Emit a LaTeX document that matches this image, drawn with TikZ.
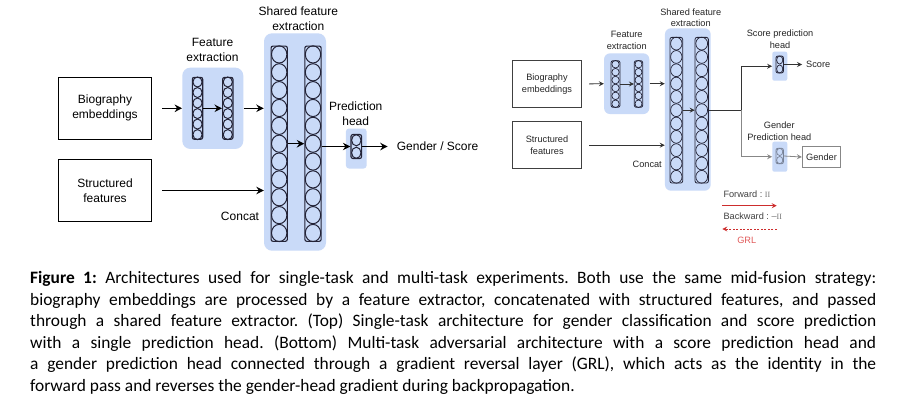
\documentclass[tikz,border=0pt]{standalone}
\usepackage{fontspec}
\setmainfont{Liberation Sans}
\newfontfamily\capfont{Carlito}
\newfontfamily\serfont{Liberation Serif}
\usepackage{tikz}
\usepackage{xcolor}
\usetikzlibrary{arrows.meta, positioning, calc}
\definecolor{layerblue}{RGB}{201, 218, 248}
\definecolor{unitdark}{RGB}{35, 35, 55}
\definecolor{flowgray}{RGB}{135, 135, 135}
\definecolor{unitgray}{RGB}{120, 130, 150}
\definecolor{gradred}{RGB}{205, 45, 45}
\definecolor{grlred}{RGB}{225, 90, 90}

% circles stacked inside a layer column
\newcommand{\stackunits}[5][]{%
  \foreach \k in {1,...,#3}
    \draw[#1] ($(#2.north)!{(\k-0.5)/#3}!(#2.south)$) ellipse (#4 and #5);%
}

\begin{document}
\frenchspacing
\begin{tikzpicture}[x=1pt, y=-1pt,
    blockbg/.style={rectangle, rounded corners=8pt, fill=layerblue, inner sep=0pt},
    unitcol/.style={rectangle, rounded corners=2pt, draw=unitdark, line width=1.1pt, inner sep=0pt},
    inbox/.style={rectangle, draw=black, line width=1.2pt, align=center, inner sep=0pt},
    lbl/.style={align=center, font=\fontsize{12}{15}\selectfont, inner sep=0pt},
    slbl/.style={align=center, font=\fontsize{9.2}{11.3}\selectfont, text=black!85, inner sep=0pt},
    arrow/.style={-{Stealth[length=7.5pt, width=7.5pt, inset=2.5pt]}, line width=1.2pt},
    sarrow/.style={-{Stealth[length=5pt, width=5pt, inset=1.8pt]}, line width=0.8pt, draw=black!80}
]
\fill[white] (0,0) rectangle (901,418);
\useasboundingbox (0,0) rectangle (901,418);

%% ---- single-task architecture ----

% Inputs
\node[inbox, minimum width=93.4, minimum height=62, font=\fontsize{12}{15}\selectfont] (bio) at (105,108.3) {Biography\\embeddings};
\node[inbox, minimum width=93.4, minimum height=62, font=\fontsize{12}{15}\selectfont] (struct) at (105,190.5) {Structured\\features};

% Feature extraction
\node[blockbg, minimum width=61, minimum height=81.3] (febg) at (212.8,108.3) {};
\node[unitcol, minimum width=10.4, minimum height=62] (fe1) at (197.5,108.3) {};
\node[unitcol, minimum width=10.4, minimum height=62] (fe2) at (227.8,108.3) {};
\stackunits[unitdark, line width=1pt]{fe1}{6}{4.6pt}{5pt}
\stackunits[unitdark, line width=1pt]{fe2}{6}{4.6pt}{5pt}
\node[lbl] (felbl) at (212.5,50) {Feature\\extraction};

% Shared feature extraction
\node[blockbg, minimum width=62, minimum height=217.4] (shbg) at (295,142) {};
\node[unitcol, minimum width=16.3, minimum height=195.3] (sh1) at (279.2,143.7) {};
\node[unitcol, minimum width=16.3, minimum height=195.3] (sh2) at (313,143.7) {};
\stackunits[unitdark, line width=1pt]{sh1}{11}{7.7pt}{8.6pt}
\stackunits[unitdark, line width=1pt]{sh2}{11}{7.7pt}{8.6pt}
\node[lbl] (shlbl) at (298.3,19.2) {Shared feature\\extraction};

% Prediction head
\node[blockbg, rounded corners=3pt, minimum width=20.7, minimum height=40] (hdbg) at (356.3,148.5) {};
\node[unitcol, minimum width=10.7, minimum height=24] (hd) at (356.3,146.5) {};
\stackunits[unitdark, line width=1pt]{hd}{2}{4.7pt}{5.6pt}
\node[lbl] (hdlbl) at (355.7,113.8) {Prediction\\head};

\node[lbl, anchor=west] (out) at (396.7,146.5) {Gender / Score};
\node[lbl] (concat) at (240,216) {Concat};

% Connecting arrows
\draw[arrow, shorten <=10pt] (bio.east) -- (febg.west);
\draw[arrow] (fe1.east) -- (fe2.west);
\draw[arrow] (febg.east) -- (febg.east -| shbg.west);
\draw[arrow, shorten <=10pt] (struct.east) -- (struct.east -| shbg.west);
\draw[arrow] (sh1.east) -- (sh2.west);
\draw[arrow] (sh2.east |- hd.west) -- (hd.west);
\draw[arrow, shorten >=9pt] (hd.east) -- (out.west);

%% ---- multi-task architecture ----

% Inputs
\node[inbox, line width=1pt, draw=black!75, minimum width=69.4, minimum height=46.6, font=\fontsize{9.2}{11.5}\selectfont, text=black!85] (rbio) at (547,84) {Biography\\embeddings};
\node[inbox, line width=1pt, draw=black!75, minimum width=69.4, minimum height=46.6, font=\fontsize{9.2}{11.5}\selectfont, text=black!85] (rstruct) at (547,145.2) {Structured\\features};

% Feature extraction
\node[blockbg, rounded corners=6pt, minimum width=45.3, minimum height=60.7] (rfebg) at (626.7,83.7) {};
\node[unitcol, line width=0.8pt, minimum width=9, minimum height=46.6] (rfe1) at (615.5,84) {};
\node[unitcol, line width=0.8pt, minimum width=8.4, minimum height=46.6] (rfe2) at (638.5,84) {};
\stackunits[unitdark, line width=0.7pt]{rfe1}{6}{3.7pt}{3.8pt}
\stackunits[unitdark, line width=0.7pt]{rfe2}{6}{3.5pt}{3.8pt}
\node[slbl] (rfelbl) at (626.7,40.3) {Feature\\extraction};

% Shared feature extraction
\node[blockbg, rounded corners=6pt, minimum width=45.7, minimum height=162.4] (rshbg) at (687.8,109.5) {};
\node[unitcol, line width=0.8pt, minimum width=12.7, minimum height=145.7] (rsh1) at (676.3,110.2) {};
\node[unitcol, line width=0.8pt, minimum width=13.3, minimum height=145.7] (rsh2) at (701.7,110.2) {};
\stackunits[unitdark, line width=0.7pt]{rsh1}{11}{5.7pt}{6.4pt}
\stackunits[unitdark, line width=0.7pt]{rsh2}{11}{5.9pt}{6.4pt}
\node[slbl] (rshlbl) at (690.7,17.9) {Shared feature\\extraction};
\node[slbl] (rconcat) at (647.2,164) {Concat};

% Score head
\node[blockbg, rounded corners=2pt, minimum width=15, minimum height=29] (rscbg) at (779.8,66.2) {};
\node[unitcol, line width=0.8pt, minimum width=7.5, minimum height=17] (rsc) at (779.7,64.5) {};
\stackunits[unitdark, line width=0.7pt]{rsc}{2}{3.1pt}{4pt}
\node[slbl] (rsclbl) at (780,39.2) {Score prediction\\head};
\node[slbl, anchor=west] (rscore) at (806,64.5) {Score};

% Gender head
\node[blockbg, rounded corners=2pt, minimum width=15, minimum height=30] (rgnbg) at (779.8,156.7) {};
\node[unitcol, draw=unitgray, line width=0.8pt, minimum width=7.5, minimum height=15.5] (rgn) at (779.7,156) {};
\stackunits[unitgray, line width=0.7pt]{rgn}{2}{3.1pt}{3.6pt}
\node[slbl] (rgnlbl) at (779.3,131.2) {Gender\\Prediction head};
\node[inbox, line width=0.9pt, draw=flowgray, minimum width=38.4, minimum height=21, font=\fontsize{9.2}{11.3}\selectfont, text=black!85] (rgender) at (821.5,157) {Gender};

% Connecting arrows
\draw[sarrow, shorten <=7pt] (rbio.east) -- (rfebg.west);
\draw[sarrow] (rfe1.east) -- (rfe2.west);
\draw[sarrow] (rfebg.east) -- (rfebg.east -| rshbg.west);
\draw[sarrow, shorten <=7pt] (rstruct.east) -- (rstruct.east -| rshbg.west);
\draw[sarrow] (rsh1.east) -- (rsh2.west);
\coordinate (split) at (741.7,110.2);
\draw[line width=0.8pt, draw=black!80] (rsh2.east) -- (split);
\draw[sarrow] (split) |- (rscbg.west);
\draw[sarrow, draw=flowgray] (split) |- (rgnbg.west);
\draw[sarrow, shorten >=4pt] (rsc.east) -- (rscore.west);
\draw[sarrow, draw=flowgray] (rgn.east) -- (rgender.west);

% Legend
\node[slbl, anchor=west, text=black!75] (fwdlbl) at (723.3,194) {Forward : {\serfont\fontsize{8}{9}\selectfont\color{black!55}II}};
\coordinate (fwdA) at (722.3,205.7);
\coordinate (fwdB) at (776.7,205.7);
\draw[sarrow, draw=gradred, line width=0.9pt] (fwdA) -- (fwdB);
\node[slbl, anchor=west, text=black!75] (bwdlbl) at (723.3,216.7) {Backward : {\color{black!55}–\serfont\fontsize{8}{9}\selectfont II}};
\coordinate (bwdA) at (722.3,229);
\coordinate (bwdB) at (776.7,229);
\draw[sarrow, draw=gradred, dashed, dash pattern=on 2pt off 1.5pt] (bwdB) -- (bwdA);
\node[slbl, text=grlred] (grl) at (746.7,240) {GRL};

% Caption
\node[anchor=north west, inner sep=0pt, align=left, font=\capfont\fontsize{17.4}{21.5}\selectfont] (caption) at (30,271.5) {%
\makebox[846pt][s]{\textbf{Figure 1:} Architectures used for single-task and multi-task experiments. Both use the same mid-fusion strategy:}\\
\makebox[846pt][s]{biography embeddings are processed by a feature extractor, concatenated with structured features, and passed}\\
\makebox[846pt][s]{through a shared feature extractor. (Top) Single-task architecture for gender classification and score prediction}\\
\makebox[846pt][s]{with a single prediction head. (Bottom) Multi-task adversarial architecture with a score prediction head and}\\
\makebox[846pt][s]{a gender prediction head connected through a gradient reversal layer (GRL), which acts as the identity in the}\\
forward pass and reverses the gender-head gradient during backpropagation.};

\end{tikzpicture}
\end{document}
